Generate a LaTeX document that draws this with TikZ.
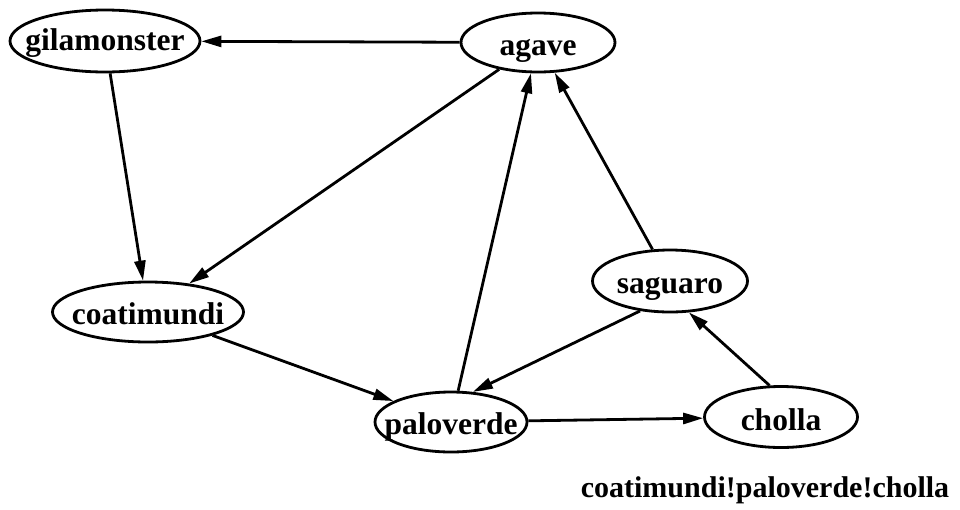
\documentclass[tikz,border=0pt]{standalone}
\usepackage{fontspec}
\setmainfont{Liberation Serif}
\usetikzlibrary{arrows.meta,shapes.geometric}
\begin{document}
\begin{tikzpicture}[x=1pt,y=-1pt,
  stateell/.style={draw, ellipse, line width=2.8pt, inner sep=0pt},
  statetext/.style={anchor=base, inner sep=0pt, font=\fontsize{31.5}{38}\selectfont\bfseries},
  captiontext/.style={anchor=base, inner sep=0pt, font=\fontsize{30}{36}\selectfont\bfseries},
  trans/.style={line width=2.8pt, -{Triangle[length=20pt,width=11pt]}}
]
\useasboundingbox (0,0) rectangle (960,509);

% states
\node[stateell, minimum width=190pt, minimum height=62pt] (gila)  at (105,41)  {};
\node[stateell, minimum width=154pt, minimum height=59pt] (agave) at (538,42.5) {};
\node[stateell, minimum width=191pt, minimum height=60pt] (coati) at (148,312) {};
\node[stateell, minimum width=152pt, minimum height=60pt] (palo)  at (451,422) {};
\node[stateell, minimum width=155pt, minimum height=62pt] (sag)   at (670,281) {};
\node[stateell, minimum width=153pt, minimum height=61pt] (cholla) at (781,417) {};

% state names
\node[statetext] (gila-t)   at ([yshift=-9pt]gila.center)   {gilamonster};
\node[statetext] (agave-t)  at ([yshift=-12.5pt]agave.center) {agave};
\node[statetext] (coati-t)  at ([yshift=-12pt]coati.center) {coatimundi};
\node[statetext] (palo-t)   at ([yshift=-12pt]palo.center)  {paloverde};
\node[statetext] (sag-t)    at ([yshift=-12pt]sag.center)   {saguaro};
\node[statetext] (cholla-t) at ([yshift=-13pt]cholla.center) {cholla};

% path caption
\node[captiontext] (path) at (765,497) {coatimundi!paloverde!cholla};

% transitions
\draw[trans] (agave) -- (gila);
\draw[trans] (gila) -- (coati);
\draw[trans] (agave) -- (coati);
\draw[trans] (coati) -- (palo);
\draw[trans] (palo) -- (agave);
\draw[trans] (sag) -- (agave);
\draw[trans] (sag.225) -- (palo.54);
\draw[trans] (palo) -- (cholla);
\draw[trans] (cholla.110) -- (sag.-59);
\end{tikzpicture}
\end{document}
